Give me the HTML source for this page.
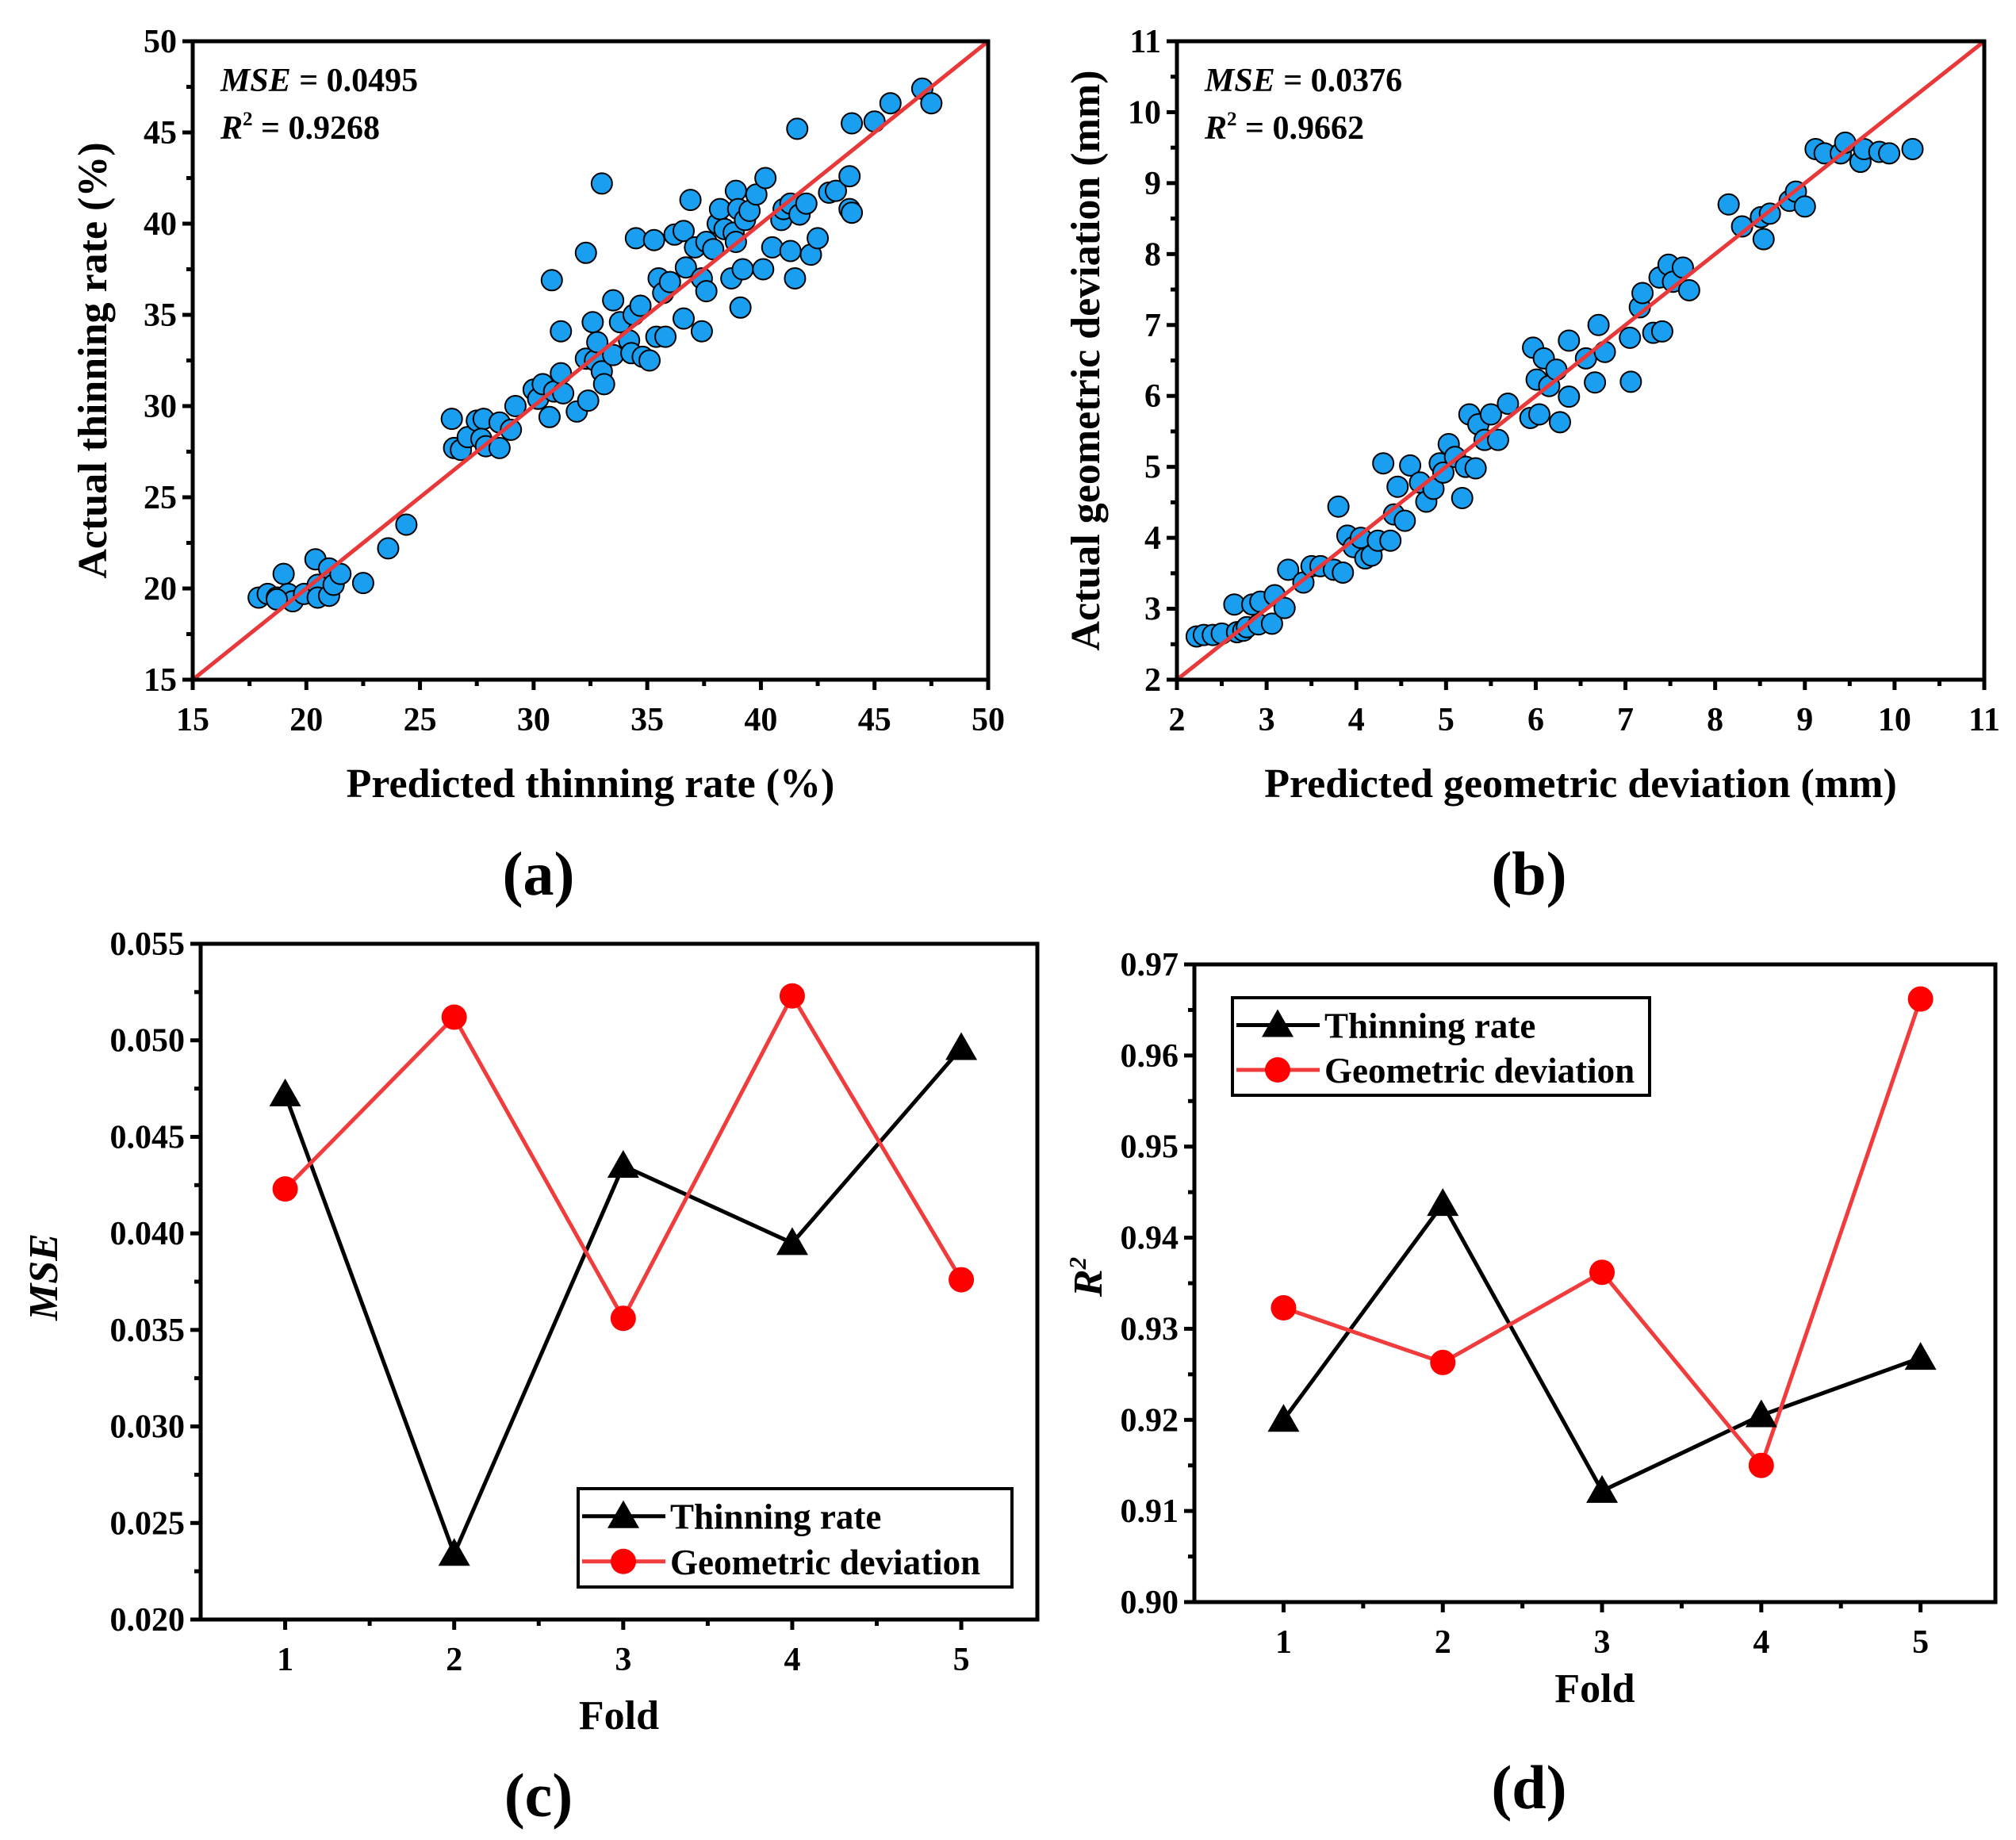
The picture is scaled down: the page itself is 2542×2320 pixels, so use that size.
<!DOCTYPE html>
<html><head><meta charset="utf-8"><style>
html,body{margin:0;padding:0;background:#fff;}
svg{display:block;font-family:"Liberation Serif",serif;font-weight:bold;}
</style></head><body>
<svg id="fig" width="2542" height="2320" viewBox="0 0 2542 2320" xmlns="http://www.w3.org/2000/svg"></svg>
<script>
const aPredicted=[17.9,18.3,18.7,19.0,19.2,19.4,18.7,19.9,20.4,20.5,20.5,21.0,21.0,21.2,21.5,22.5,23.6,24.4,26.4,26.5,26.8,27.1,27.5,27.8,27.7,27.9,28.5,28.5,29.0,29.2,30.0,30.2,30.4,30.7,30.8,30.9,31.2,31.2,31.3,31.9,32.3,32.3,32.4,32.6,32.7,32.8,33.0,33.0,33.1,33.5,33.5,33.8,34.2,34.3,34.4,34.5,34.7,34.8,35.1,35.3,35.4,35.5,35.7,35.8,36.0,36.2,36.6,36.6,36.7,36.9,37.1,37.4,37.4,37.6,37.6,37.9,38.1,38.2,38.4,38.7,38.8,38.9,38.9,39.0,39.1,39.2,39.3,39.5,39.8,40.2,40.1,40.5,40.9,41.0,41.3,41.3,41.5,41.6,41.7,42.0,42.2,42.5,43.0,43.3,43.9,44.0,43.9,44.0,45.0,45.7,47.1,47.5];
const aActual=[19.5,19.7,19.5,20.8,19.7,19.3,19.4,19.7,21.6,20.2,19.5,21.1,19.6,20.2,20.8,20.3,22.2,23.5,29.3,27.7,27.6,28.3,29.2,29.3,28.2,27.8,27.7,29.1,28.7,30.0,30.9,30.4,31.2,29.4,36.9,30.8,34.1,31.8,30.7,29.7,32.6,38.4,30.3,34.6,32.5,33.5,31.9,42.2,31.2,32.8,35.8,34.6,33.6,32.9,35.0,39.2,35.5,32.7,32.5,39.1,33.8,37.0,36.2,33.8,36.8,39.4,39.6,34.8,37.6,41.3,38.7,34.1,37.0,39.0,36.3,38.6,40.0,40.8,39.7,37.0,39.5,39.0,41.8,40.8,35.4,37.5,40.2,40.7,41.6,42.5,37.5,38.7,40.2,40.8,41.1,38.5,37.0,45.2,40.5,41.1,38.3,39.2,41.7,41.8,40.8,40.6,42.6,45.5,45.6,46.6,47.4,46.6];
const bPredicted=[2.22,2.3,2.4,2.5,2.64,2.67,2.74,2.78,2.84,2.91,2.93,3.06,3.09,3.2,3.24,3.41,3.5,3.6,3.75,3.8,3.85,3.9,3.97,4.05,4.1,4.17,4.24,4.3,4.38,4.42,4.46,4.54,4.6,4.71,4.78,4.86,4.93,4.97,5.03,5.1,5.18,5.22,5.26,5.33,5.36,5.43,5.5,5.58,5.69,5.94,5.97,6.01,6.04,6.09,6.15,6.23,6.27,6.37,6.37,6.56,6.66,6.7,6.77,7.05,7.06,7.16,7.19,7.31,7.38,7.41,7.48,7.53,7.64,7.71,8.15,8.3,8.51,8.54,8.61,8.83,8.9,9.0,9.12,9.22,9.4,9.45,9.62,9.66,9.83,9.94,10.2];
const bActual=[2.61,2.63,2.63,2.65,3.06,2.67,2.69,2.74,3.06,2.78,3.1,2.79,3.19,3.01,3.55,3.37,3.6,3.6,3.55,4.44,3.51,4.03,3.87,4.0,3.71,3.75,3.96,5.05,3.96,4.33,4.72,4.24,5.02,4.78,4.51,4.69,5.05,4.92,5.32,5.14,4.56,5.0,5.74,4.98,5.6,5.38,5.74,5.38,5.89,5.69,6.68,6.23,5.74,6.53,6.14,6.37,5.63,5.99,6.78,6.53,6.19,7.0,6.62,6.82,6.2,7.25,7.45,6.89,7.67,6.91,7.85,7.61,7.81,7.49,8.70,8.39,8.52,8.21,8.57,8.75,8.88,8.67,9.48,9.42,9.42,9.57,9.3,9.48,9.44,9.42,9.48];
const folds=[1,2,3,4,5];
const mseThinning=[0.0472,0.0234,0.0435,0.0395,0.0496];
const mseGeometric=[0.0423,0.0512,0.0356,0.0523,0.0376];
const r2Thinning=[0.9200,0.9437,0.9122,0.9205,0.9268];
const r2Geometric=[0.9323,0.9263,0.9362,0.9150,0.9662];
const aTicks=[15,20,25,30,35,40,45,50];
const bTicks=[2,3,4,5,6,7,8,9,10,11];
const cTicks=["0.020","0.025","0.030","0.035","0.040","0.045","0.050","0.055"];
const dTicks=["0.90","0.91","0.92","0.93","0.94","0.95","0.96","0.97"];

const NS="http://www.w3.org/2000/svg";
const svg=document.getElementById('fig');
const TF=42;
function el(tag,attrs,parent,text){const e=document.createElementNS(NS,tag);for(const k in attrs)e.setAttribute(k,attrs[k]);if(text!==undefined)e.textContent=text;(parent||svg).appendChild(e);return e;}
function scale(d0,d1,r0,r1){return v=>r0+(v-d0)/(d1-d0)*(r1-r0);}

function frame(g,L,R,T,B,name){
  const f=el('rect',{x:L,y:T,width:R-L,height:B-T,fill:'none',stroke:'#000','stroke-width':5},g);
  
  
}
function ytick(g,X,Y,vals,labels,minor,name){
  vals.forEach((v,i)=>{
    el('line',{x1:X.L-13,x2:X.L,y1:Y(v),y2:Y(v),stroke:'#000','stroke-width':5},g);
    const t=el('text',{x:X.L-20,y:Y(v)+14,'text-anchor':'end','font-size':TF},g,labels[i]);
    
    
    if(minor&&i<vals.length-1){const m=(Y(v)+Y(vals[i+1]))/2;el('line',{x1:X.L-8,x2:X.L,y1:m,y2:m,stroke:'#000','stroke-width':5},g);}
  });
}
function xtick(g,Xs,B,vals,labels,minors,name,ly){
  vals.forEach((v,i)=>{
    el('line',{x1:Xs(v),x2:Xs(v),y1:B,y2:B+13,stroke:'#000','stroke-width':5},g);
    const t=el('text',{x:Xs(v),y:ly,'text-anchor':'middle','font-size':TF},g,labels[i]);
    
    
  });
  minors.forEach(v=>el('line',{x1:Xs(v),x2:Xs(v),y1:B,y2:B+8,stroke:'#000','stroke-width':5},g));
}
function label(x,y,txt,size,name,rot){
  const t=el('text',{x:x,y:y,'text-anchor':'middle','font-size':size,transform:rot?`rotate(-90 ${x} ${y})`:''},svg,txt);
  
  
  return t;
}

/* ---------- scatter panels ---------- */
function scatter(name,L,R,T,B,d0,d1,ticks,px,py,mse,r2,xt,yt,lx){
  const g=el('g',{});
  
  
  const X=scale(d0,d1,L,R),Y=scale(d0,d1,B,T);
  const minors=[];for(let i=0;i<ticks.length-1;i++)minors.push((ticks[i]+ticks[i+1])/2);
  ytick(g,{L:L},Y,ticks,ticks.map(String),true,name);
  xtick(g,X,B,ticks,ticks.map(String),minors,name,B+64);
  const cp=el('clipPath',{id:'clip'+name},g);el('rect',{x:L,y:T,width:R-L,height:B-T},cp);
  const pts=el('g',{'clip-path':`url(#clip${name})`},g);
  px.forEach((v,i)=>{
    const c=el('circle',{cx:X(v),cy:Y(py[i]),r:13,fill:'#1a9ff0',stroke:'#000','stroke-width':2},pts);
    
    
  });
  const ln=el('line',{x1:X(d0),y1:Y(d0),x2:X(d1),y2:Y(d1),stroke:'#e8383a','stroke-width':5},g);
  
  
  frame(g,L,R,T,B,name);
  const m=el('text',{x:L+35,y:T+63,'font-size':42},g);
  
  
  el('tspan',{'font-style':'italic'},m,'MSE');el('tspan',{},m,' = '+mse);
  const r=el('text',{x:L+35,y:T+123,'font-size':42},g);
  
  
  el('tspan',{'font-style':'italic'},r,'R');el('tspan',{'font-size':25,dy:-17},r,'2');el('tspan',{dy:17},r,' = '+r2);
  label((L+R)/2,B+148,xt,52,name+'-x-axis-title');
  label(lx,(T+B)/2,yt,52,name+'-y-axis-title',true);
}
scatter('panel-a',243,1246,52,857,15,50,aTicks,aPredicted,aActual,'0.0495','0.9268','Predicted thinning rate (%)','Actual thinning rate (%)',134);
scatter('panel-b',1484,2502,52,857,2,11,bTicks,bPredicted,bActual,'0.0376','0.9662','Predicted geometric deviation (mm)','Actual geometric deviation (mm)',1386);
label(679,1128,'(a)',78,'panel-a-label');
label(1928,1128,'(b)',78,'panel-b-label');

/* ---------- line panels ---------- */
function tri(g,x,y){const p=el('polygon',{points:`${x},${y-20} ${x-20},${y+15} ${x+20},${y+15}`,fill:'#000'},g);}
function dot(g,x,y){const c=el('circle',{cx:x,cy:y,r:16,fill:'#ff0000'},g);}
function linePanel(name,L,R,T,B,x0,x1,y0,y1,tickVals,tickLabels,s1,s2,tickY,foldY,leg){
  const g=el('g',{});
  
  
  const X=scale(x0,x1,L,R),Y=scale(y0,y1,B,T);
  ytick(g,{L:L},Y,tickVals,tickLabels,true,name);
  xtick(g,X,B,folds,folds.map(String),[1.5,2.5,3.5,4.5],name,tickY);
  const p1=el('polyline',{points:folds.map((f,i)=>X(f)+','+Y(s1[i])).join(' '),fill:'none',stroke:'#000','stroke-width':5},g);
  
  
  const p2=el('polyline',{points:folds.map((f,i)=>X(f)+','+Y(s2[i])).join(' '),fill:'none',stroke:'#f03c3c','stroke-width':5},g);
  
  
  folds.forEach((f,i)=>tri(g,X(f),Y(s1[i])));
  folds.forEach((f,i)=>dot(g,X(f),Y(s2[i])));
  frame(g,L,R,T,B,name);
  const lg=el('g',{},g);
  
  
  el('rect',{x:leg[0],y:leg[1],width:leg[2],height:leg[3],fill:'#fff',stroke:'#000','stroke-width':4},lg);
  const y1r=leg[1]+leg[3]*0.28,y2r=leg[1]+leg[3]*0.74;
  el('line',{x1:leg[0]+5,x2:leg[0]+110,y1:y1r,y2:y1r,stroke:'#000','stroke-width':5},lg);tri(lg,leg[0]+57,y1r);
  el('line',{x1:leg[0]+5,x2:leg[0]+110,y1:y2r,y2:y2r,stroke:'#f03c3c','stroke-width':5},lg);dot(lg,leg[0]+57,y2r);
  const t1=el('text',{x:leg[0]+116,y:y1r+16,'font-size':45},lg,'Thinning rate');
  
  
  const t2=el('text',{x:leg[0]+116,y:y2r+16,'font-size':45},lg,'Geometric deviation');
  
  
  label((L+R)/2,foldY,'Fold',52,name+'-x-axis-title');
}
linePanel('panel-c',253,1308,1190,2042,0.5,5.45,0.020,0.055,cTicks.map(Number),cTicks,mseThinning,mseGeometric,2106,2180,[729,1877,547,124]);
linePanel('panel-d',1506,2516,1216,2020,0.44,5.47,0.90,0.97,dTicks.map(Number),dTicks,r2Thinning,r2Geometric,2084,2146,[1554,1258,526,123]);
const mt=label(72,1610,'MSE',52,'panel-c-y-axis-title',true);mt.setAttribute('font-style','italic');
const rt=el('text',{x:1389,y:1610,'text-anchor':'middle','font-size':52,'font-style':'italic',transform:'rotate(-90 1389 1610)'},svg);


el('tspan',{},rt,'R');el('tspan',{'font-size':31,dy:-20},rt,'2');
label(679,2290,'(c)',78,'panel-c-label');
label(1928,2280,'(d)',78,'panel-d-label');
</script>
</body></html>
